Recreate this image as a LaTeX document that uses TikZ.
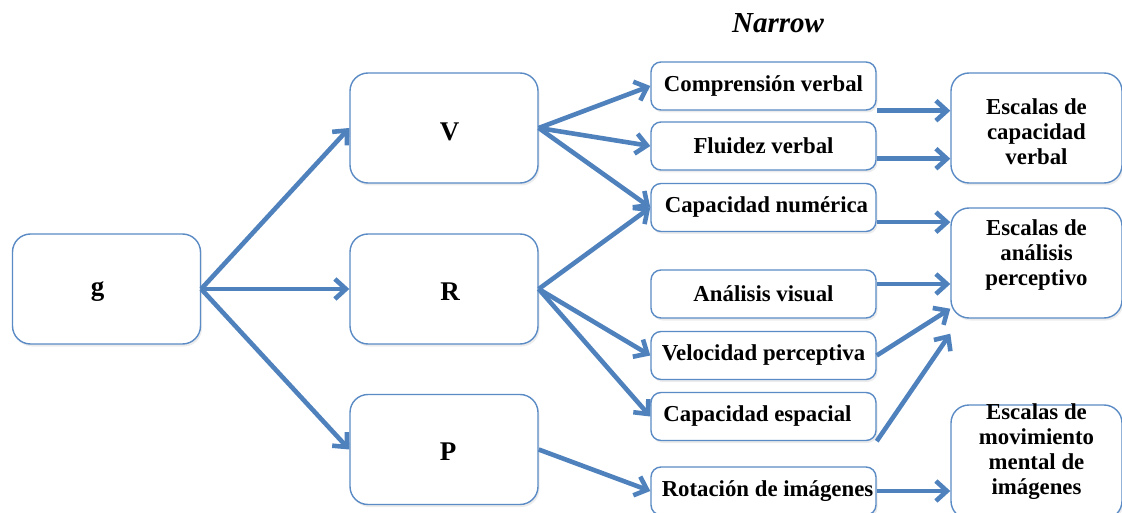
\documentclass[tikz,border=0pt]{standalone}
\usepackage{fontspec}
\setmainfont{Liberation Serif}
\usetikzlibrary{arrows.meta,shadows,calc}
\definecolor{linkblue}{HTML}{4F81BD}
\definecolor{edgeblue}{HTML}{5B8BC5}
\begin{document}
\begin{tikzpicture}[x=1pt,y=-1pt,
  every node/.style={font=\fontsize{22.8}{25}\selectfont\bfseries, align=center, inner sep=0pt},
  letter/.style={font=\fontsize{27}{30}\selectfont\bfseries},
  boxbase/.style={draw=edgeblue, line width=1.4pt, fill=white,
    drop shadow={shadow xshift=1.5pt, shadow yshift=-2.5pt, opacity=0.15}},
  bigbox/.style={boxbase, rounded corners=18pt, minimum width=188pt, minimum height=110pt},
  scalebox/.style={boxbase, rounded corners=18pt, minimum width=171pt, minimum height=110pt},
  smallbox/.style={boxbase, rounded corners=10pt, minimum width=225pt, minimum height=48pt},
  link/.style={draw=linkblue, line width=4.6pt, -{Straight Barb[length=11pt,width=20pt]}}
]
\useasboundingbox (0,0) rectangle (1122,513);
\clip (0,0) rectangle (1122,513);

% heading
\node[font=\fontsize{29}{31}\selectfont\bfseries\itshape] (narrow) at (778,23) {Narrow};

% general factor and broad factors
\node[bigbox] (g) at (106.5,289) {};
\node[letter] (gt) at (97.5,292) {g};
\node[bigbox] (V) at (444,128) {};
\node[letter] (Vt) at (449.5,132) {V};
\node[bigbox] (R) at (444,289) {};
\node[letter] (Rt) at (450,292) {R};
\node[bigbox] (P) at (444,449.5) {};
\node[letter] (Pt) at (448,452) {P};

% narrow abilities
\node[smallbox] (comp) at (763.5,86)    {Comprensión verbal};
\node[smallbox] (flu)  at (763.5,146)   {Fluidez verbal};
\node[smallbox] (capn) at (763.5,207.5) {\hspace*{6pt}Capacidad numérica};
\node[smallbox] (anv)  at (763.5,294)   {Análisis visual};
\node[smallbox] (vel)  at (763.5,355.5) {Velocidad perceptiva};
\node[smallbox] (cape) at (763.5,416.5) {Capacidad espacial\hspace*{12pt}};
\node[smallbox] (rot)  at (763.5,491)   {\hspace*{8pt}Rotación de imágenes};

% test scales
\node[scalebox] (escv) at (1036.5,128) {};
\node (escvt) at (1036.5,132) {Escalas de\\capacidad\\verbal};
\node[scalebox] (esca) at (1036.5,263) {};
\node (escat) at (1036.5,255) {Escalas de\\análisis\\perceptivo};
\node[scalebox, minimum height=114pt] (escm) at (1036.5,462) {};
\node (escmt) at (1036.5,452) {Escalas de\\movimiento\\mental de\\imágenes};

% g to broad factors
\draw[link] (g.east) -- (V.west);
\draw[link] (g.east) -- (R.west);
\draw[link] (g.east) -- (P.west);

% broad factors to narrow abilities
\draw[link] (V.east) -- (comp.west);
\draw[link] (V.east) -- (flu.west);
\draw[link] (V.east) -- (capn.west);
\draw[link] (R.east) -- (capn.west);
\draw[link] (R.east) -- (vel.west);
\draw[link] (R.east) -- (cape.west);
\draw[link] (P.east) -- (rot.west);

% narrow abilities to scales
\draw[link] (comp.south east) -- (comp.south east -| escv.west);
\draw[link] ([yshift=12pt]flu.south east) -- ([yshift=12pt]flu.south east -| escv.west);
\draw[link] ([yshift=10pt]capn.south east) -- ([yshift=10pt]capn.south east -| esca.west);
\draw[link] ([yshift=10pt]anv.east) -- ([yshift=10pt]anv.east -| esca.west);
\draw[link] (vel.east) -- ([yshift=10pt]esca.south west);
\draw[link] (cape.south east) -- ([yshift=-15pt]esca.south west);
\draw[link] (rot.east) -- (rot.east -| escm.west);
\end{tikzpicture}
\end{document}
